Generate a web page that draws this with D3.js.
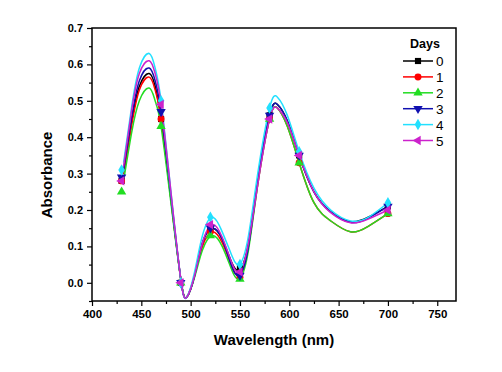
<!DOCTYPE html>
<head>
<meta charset="utf-8">
<script src="https://d3js.org/d3.v7.min.js"></script>
<style>
  body { margin: 0; background: #fff; }
  text { font-family: Arial, "Liberation Sans", sans-serif; }
</style>
</head>
<body>
<div id="datavis"></div>
<script type="text/javascript">
    // marker values
    var wavelengths = [430, 470, 490, 520, 550, 580, 610, 700];
    var days = ["0", "1", "2", "3", "4", "5"];
    var day0 = [0.28, 0.45, 0.00, 0.15, 0.04, 0.46, 0.35, 0.21];
    var day1 = [0.28, 0.45, 0.00, 0.14, 0.015, 0.45, 0.33, 0.19];
    var day2 = [0.25, 0.43, 0.00, 0.13, 0.01, 0.45, 0.33, 0.19];
    var day3 = [0.29, 0.47, 0.00, 0.15, 0.02, 0.46, 0.35, 0.21];
    var day4 = [0.31, 0.50, 0.00, 0.18, 0.05, 0.48, 0.36, 0.22];
    var day5 = [0.28, 0.49, 0.00, 0.16, 0.03, 0.45, 0.35, 0.20];

    // smoothed curves at these wavelengths
    var curveWl = [432, 440, 448, 458, 464, 470, 480, 490, 496, 504, 512, 522, 532, 541, 549,
                   558, 568, 580, 588, 598, 610, 625, 642, 662, 680, 700];
    var curve0 = [0.30, 0.44, 0.54, 0.575, 0.54, 0.45, 0.23, 0.01, -0.04, 0.02, 0.11, 0.15, 0.12, 0.06, 0.035,
                  0.10, 0.28, 0.46, 0.49, 0.445, 0.35, 0.25, 0.195, 0.168, 0.18, 0.21];
    var curve1 = [0.30, 0.43, 0.53, 0.565, 0.53, 0.45, 0.23, 0.01, -0.04, 0.02, 0.10, 0.14, 0.11, 0.05, 0.02,
                  0.09, 0.27, 0.45, 0.48, 0.43, 0.33, 0.22, 0.17, 0.14, 0.155, 0.19];
    var curve2 = [0.28, 0.41, 0.50, 0.535, 0.50, 0.43, 0.22, 0.01, -0.04, 0.015, 0.09, 0.13, 0.10, 0.04, 0.01,
                  0.08, 0.27, 0.45, 0.48, 0.43, 0.33, 0.22, 0.17, 0.14, 0.155, 0.19];
    var curve3 = [0.31, 0.45, 0.555, 0.59, 0.555, 0.47, 0.24, 0.01, -0.04, 0.02, 0.11, 0.15, 0.12, 0.05, 0.02,
                  0.09, 0.28, 0.46, 0.49, 0.445, 0.35, 0.25, 0.195, 0.166, 0.178, 0.21];
    var curve4 = [0.33, 0.48, 0.59, 0.63, 0.59, 0.50, 0.25, 0.01, -0.04, 0.03, 0.13, 0.18, 0.14, 0.08, 0.05,
                  0.12, 0.30, 0.48, 0.51, 0.46, 0.36, 0.26, 0.20, 0.17, 0.18, 0.22];
    var curve5 = [0.32, 0.47, 0.575, 0.61, 0.575, 0.49, 0.25, 0.01, -0.04, 0.02, 0.11, 0.16, 0.125, 0.06, 0.03,
                  0.10, 0.27, 0.45, 0.48, 0.44, 0.35, 0.25, 0.193, 0.165, 0.175, 0.20];

    var xTicks = [400, 450, 500, 550, 600, 650, 700, 750];
    var yTicks = [0.0, 0.1, 0.2, 0.3, 0.4, 0.5, 0.6, 0.7];

    var series = [day0, day1, day2, day3, day4, day5];
    var curves = [curve0, curve1, curve2, curve3, curve4, curve5];
    var colors = ["#000000", "#ff0000", "#22dd22", "#1010b0", "#22e0ff", "#cc22cc"];
    var shapes = [
      {s: d3.symbolSquare, r: 0},
      {s: d3.symbolCircle, r: 0},
      {s: d3.symbolTriangle, r: 0},
      {s: d3.symbolTriangle, r: 180},
      {s: d3.symbolDiamond, r: 0},
      {s: d3.symbolTriangle, r: -90}
    ];

    var margin = {top: 28, right: 46, bottom: 71, left: 92},
        width = 502 - margin.left - margin.right,
        height = 372 - margin.top - margin.bottom;

    var svg = d3.select("#datavis")
                .append("svg")
                .attr("width", 502)
                .attr("height", 372)
                .append("g")
                .attr("transform", "translate(" + margin.left + "," + margin.top + ")");

    var x = d3.scaleLinear().domain([400, 769]).range([0, width]);
    var y = d3.scaleLinear().domain([-0.05, 0.7]).range([height, 0]);

    // minor ticks
    svg.append("g")
       .attr("transform", "translate(0," + height + ")")
       .call(d3.axisBottom(x).tickValues(d3.range(425, 770, 50)).tickSize(3).tickFormat(""))
       .call(g => g.select(".domain").remove());
    svg.append("g")
       .call(d3.axisLeft(y).tickValues(d3.range(-0.05, 0.7, 0.1)).tickSize(3).tickFormat(""))
       .call(g => g.select(".domain").remove());

    // X axis
    svg.append("g")
       .attr("transform", "translate(0," + height + ")")
       .call(d3.axisBottom(x).tickValues(xTicks).tickSize(5).tickPadding(4))
       .call(g => g.select(".domain").remove())
       .selectAll("text")
       .style("font-size", "11.5px").style("font-weight", "bold");

    // Y axis
    svg.append("g")
       .call(d3.axisLeft(y).tickValues(yTicks).tickSize(5).tickPadding(4).tickFormat(d3.format(".1f")))
       .call(g => g.select(".domain").remove())
       .selectAll("text")
       .style("font-size", "11px").style("font-weight", "bold");

    svg.selectAll(".tick line").attr("stroke-width", 1.2);

    // frame
    svg.append("rect")
       .attr("width", width).attr("height", height)
       .attr("fill", "none").attr("stroke", "#000").attr("stroke-width", 1.5);

    var line = d3.line()
                 .curve(d3.curveNatural)
                 .x(function(d, i) { return x(curveWl[i]) })
                 .y(function(d) { return y(d) });

    curves.forEach(function(vals, k) {
      svg.append("path")
         .datum(vals)
         .attr("fill", "none")
         .attr("stroke", colors[k])
         .attr("stroke-width", 1.5)
         .attr("d", line);
    });

    series.forEach(function(vals, k) {
      svg.selectAll(null)
         .data(vals)
         .enter()
         .append("path")
         .attr("d", d3.symbol().type(shapes[k].s).size(38))
         .attr("fill", colors[k])
         .attr("transform", function(d, i) {
           return "translate(" + x(wavelengths[i]) + "," + y(d) + ") rotate(" + shapes[k].r + ")";
         });
    });

    // legend
    var lg = svg.append("g").attr("transform", "translate(" + (403 - margin.left) + "," + (61 - margin.top) + ")");
    lg.append("text")
      .attr("x", 7).attr("y", -13)
      .style("font-size", "12.5px").style("font-weight", "bold")
      .text("Days");
    days.forEach(function(d, k) {
      var row = lg.append("g").attr("transform", "translate(0," + (k * 15.9) + ")");
      row.append("line").attr("x1", 0).attr("x2", 30)
         .attr("stroke", colors[k]).attr("stroke-width", 1.5);
      row.append("path")
         .attr("d", d3.symbol().type(shapes[k].s).size(38))
         .attr("fill", colors[k])
         .attr("transform", "translate(15,0) rotate(" + shapes[k].r + ")");
      row.append("text")
         .attr("x", 33).attr("y", 5)
         .style("font-size", "13.5px")
         .text(d);
    });

    // axis titles
    svg.append("text")
       .attr("x", width / 2).attr("y", height + 44)
       .attr("text-anchor", "middle")
       .style("font-size", "15px").style("font-weight", "bold")
       .text("Wavelength (nm)");
    svg.append("text")
       .attr("transform", "translate(-40," + (175 - margin.top) + ") rotate(-90)")
       .attr("text-anchor", "middle")
       .style("font-size", "15px").style("font-weight", "bold")
       .text("Absorbance");
</script>
</body>
